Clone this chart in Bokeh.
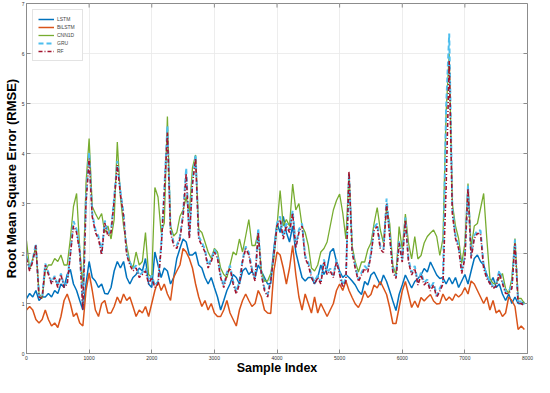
from bokeh.plotting import figure
from bokeh.models import FixedTicker, Range1d
from bokeh.embed import file_html
from bokeh.resources import INLINE

# sample positions (every 50 samples)
sample_index = list(range(0, 8000, 50))

lstm = [
    1.10, 1.20, 1.13, 1.26, 1.06, 1.13, 1.13, 1.20, 1.13, 1.26, 1.20, 1.39, 1.32, 1.58, 1.68, 1.39, 1.26, 1.06, 0.87, 1.39,
    1.84, 1.52, 1.45, 1.32, 1.39, 1.20, 1.19, 1.32, 1.65, 1.84, 1.71, 1.84, 1.52, 1.39, 1.52, 1.58, 1.71, 1.65, 1.90, 1.39,
    1.32, 2.03, 1.77, 1.52, 1.71, 1.65, 1.39, 1.52, 1.90, 2.10, 2.29, 2.23, 1.97, 1.97, 2.03, 1.77, 1.71, 1.52, 1.39, 1.52,
    1.32, 1.13, 0.87, 1.06, 1.26, 1.39, 1.58, 1.52, 1.39, 1.65, 1.71, 1.58, 1.65, 1.52, 1.77, 1.65, 1.52, 1.39, 1.40, 2.10,
    2.61, 2.42, 2.74, 2.42, 2.23, 2.55, 2.03, 1.77, 1.52, 1.45, 1.52, 1.52, 1.39, 1.52, 1.77, 1.58, 1.71, 2.03, 2.10, 1.84,
    1.65, 1.52, 1.58, 1.52, 1.45, 1.37, 1.25, 1.18, 1.44, 1.37, 1.57, 1.63, 1.50, 1.37, 1.57, 1.44, 1.25, 1.05, 0.86, 1.18,
    1.37, 1.57, 1.44, 1.31, 1.44, 1.50, 1.57, 1.70, 1.63, 1.83, 1.70, 1.57, 1.50, 1.52, 1.39, 1.52, 1.39, 1.52, 1.32, 1.45,
    1.58, 1.39, 1.65, 1.90, 1.97, 1.84, 1.77, 1.58, 1.39, 1.52, 1.32, 1.39, 1.19, 1.06, 1.19, 1.00, 1.13, 1.00, 1.00, 1.03,
]

bilstm = [
    0.87, 0.94, 0.87, 0.68, 0.61, 0.68, 0.87, 0.68, 0.55, 0.61, 0.52, 0.74, 1.06, 1.19, 1.00, 0.74, 0.81, 0.61, 0.55, 1.26,
    1.61, 1.26, 0.87, 0.74, 1.00, 1.06, 0.81, 0.81, 0.94, 1.13, 1.00, 1.19, 1.06, 1.13, 0.94, 0.74, 0.87, 0.81, 0.94, 0.74,
    1.00, 1.26, 1.45, 1.26, 1.39, 1.19, 1.06, 1.52, 1.65, 1.77, 2.10, 2.03, 1.90, 1.71, 1.39, 1.13, 0.94, 1.06, 0.87, 1.00,
    0.81, 0.74, 0.74, 0.87, 1.06, 0.81, 0.68, 0.55, 0.87, 1.06, 1.19, 1.06, 0.94, 1.00, 1.26, 1.13, 0.87, 0.81, 0.80, 1.65,
    2.03, 1.97, 1.71, 1.39, 1.71, 2.16, 1.58, 1.13, 0.87, 1.19, 1.00, 0.81, 1.13, 0.81, 1.00, 0.87, 0.74, 0.87, 1.00, 1.26,
    1.39, 1.26, 1.45, 1.26, 1.12, 0.99, 0.92, 1.05, 1.25, 1.12, 1.18, 1.37, 1.31, 1.44, 1.31, 1.18, 0.92, 0.60, 0.60, 0.92,
    1.25, 1.44, 1.18, 0.92, 1.05, 0.92, 1.12, 1.05, 1.12, 1.18, 1.05, 0.99, 1.00, 1.19, 1.06, 1.13, 1.06, 1.19, 1.13, 1.19,
    1.32, 1.19, 1.45, 1.39, 1.26, 1.13, 1.00, 1.13, 0.87, 1.06, 0.81, 0.87, 0.74, 0.81, 1.13, 1.06, 0.94, 0.48, 0.55, 0.48,
]

cnn1d = [
    2.26, 1.68, 1.90, 2.13, 1.20, 1.10, 1.65, 1.77, 1.77, 1.90, 1.84, 1.97, 1.77, 1.77, 2.29, 2.94, 3.20, 2.10, 1.32, 3.40,
    4.30, 2.94, 2.80, 2.68, 2.80, 2.42, 2.55, 2.29, 2.68, 4.23, 3.13, 2.55, 2.16, 1.84, 1.71, 2.03, 1.77, 1.84, 2.42, 1.58,
    1.52, 3.32, 3.13, 2.42, 2.61, 4.74, 2.55, 2.35, 2.42, 2.74, 2.87, 3.13, 2.81, 3.71, 3.97, 2.48, 2.42, 2.23, 2.03, 1.90,
    2.10, 2.03, 1.71, 1.58, 1.52, 1.77, 2.03, 1.97, 2.29, 2.03, 2.35, 2.68, 2.16, 2.16, 2.42, 1.65, 1.45, 1.45, 1.60, 1.90,
    2.55, 3.26, 2.55, 2.68, 2.55, 3.39, 2.87, 3.00, 2.55, 2.42, 2.16, 1.71, 1.65, 1.77, 2.03, 2.10, 2.23, 2.55, 2.87, 3.06,
    3.19, 2.81, 2.29, 3.60, 2.15, 1.83, 1.63, 1.83, 1.83, 2.08, 2.21, 2.60, 2.92, 2.47, 2.21, 2.92, 2.60, 1.76, 1.57, 2.54,
    2.08, 2.79, 2.21, 1.89, 2.34, 1.89, 1.96, 2.21, 2.34, 2.41, 2.47, 2.34, 1.96, 2.30, 4.80, 6.00, 3.00, 2.55, 2.30, 1.80,
    2.20, 3.40, 2.10, 2.55, 2.60, 2.90, 3.20, 2.30, 1.50, 1.40, 1.40, 1.50, 1.60, 1.30, 1.20, 1.50, 2.30, 1.10, 1.10, 1.00,
]

gru = [
    1.95, 1.70, 1.88, 2.20, 1.15, 1.12, 1.80, 1.62, 1.42, 1.55, 1.36, 1.60, 1.36, 1.42, 2.02, 2.65, 2.48, 2.08, 0.90, 3.10,
    4.02, 2.80, 2.48, 2.34, 2.02, 2.66, 2.40, 2.46, 3.12, 3.85, 3.24, 2.80, 2.02, 1.82, 1.70, 1.76, 1.56, 1.62, 1.70, 1.44,
    1.56, 1.36, 1.44, 2.16, 3.26, 4.55, 2.48, 2.22, 2.16, 2.34, 2.80, 3.71, 2.34, 3.44, 3.98, 2.34, 2.22, 2.08, 1.76, 1.88,
    2.08, 1.95, 1.56, 1.36, 1.62, 1.76, 1.44, 1.24, 1.44, 1.88, 2.14, 2.02, 1.70, 1.50, 2.50, 1.62, 1.30, 1.18, 1.50, 2.02,
    2.60, 2.74, 2.34, 2.60, 2.48, 2.86, 2.14, 2.48, 2.60, 1.95, 1.82, 1.56, 1.44, 1.56, 1.44, 1.88, 1.62, 1.70, 1.56, 1.88,
    1.62, 1.36, 1.50, 3.60, 2.08, 1.75, 1.48, 1.62, 1.75, 1.68, 2.00, 2.52, 2.60, 2.14, 2.08, 3.10, 2.40, 1.68, 1.55, 2.26,
    1.88, 2.72, 1.88, 1.62, 1.75, 1.42, 1.62, 1.42, 1.48, 1.30, 1.42, 1.16, 1.30, 1.44, 4.90, 6.40, 2.90, 2.36, 2.16, 1.65,
    1.95, 3.36, 1.95, 2.36, 2.46, 2.46, 1.76, 1.56, 1.44, 1.34, 1.40, 1.66, 1.44, 1.24, 1.24, 1.36, 2.28, 1.04, 1.04, 0.98,
]

rf = [
    1.90, 1.65, 1.84, 2.16, 1.13, 1.10, 1.77, 1.58, 1.39, 1.52, 1.32, 1.58, 1.32, 1.39, 1.97, 2.55, 2.42, 2.03, 0.87, 3.00,
    3.90, 2.74, 2.42, 2.29, 1.97, 2.61, 2.35, 2.42, 3.06, 3.77, 3.19, 2.74, 1.97, 1.77, 1.65, 1.71, 1.52, 1.58, 1.65, 1.39,
    1.52, 1.32, 1.39, 2.10, 3.19, 4.42, 2.42, 2.16, 2.10, 2.29, 2.74, 3.60, 2.29, 3.39, 3.90, 2.29, 2.16, 2.03, 1.71, 1.84,
    2.03, 1.90, 1.52, 1.32, 1.58, 1.71, 1.39, 1.19, 1.39, 1.84, 2.10, 1.97, 1.65, 1.45, 2.42, 1.58, 1.26, 1.13, 1.45, 1.97,
    2.55, 2.68, 2.29, 2.55, 2.42, 2.81, 2.10, 2.42, 2.55, 1.90, 1.77, 1.52, 1.39, 1.52, 1.39, 1.84, 1.58, 1.65, 1.52, 1.84,
    1.58, 1.32, 1.45, 3.65, 2.02, 1.70, 1.44, 1.57, 1.70, 1.63, 1.96, 2.47, 2.54, 2.08, 2.02, 2.99, 2.34, 1.63, 1.50, 2.21,
    1.83, 2.67, 1.83, 1.57, 1.70, 1.37, 1.57, 1.37, 1.44, 1.25, 1.37, 1.12, 1.25, 1.39, 3.30, 5.85, 2.80, 2.30, 2.10, 1.60,
    1.90, 3.30, 1.90, 2.30, 2.40, 2.40, 1.70, 1.50, 1.40, 1.30, 1.35, 1.60, 1.40, 1.20, 1.20, 1.30, 2.20, 1.00, 1.00, 0.95,
]

x_ticks = [0, 1000, 2000, 3000, 4000, 5000, 6000, 7000, 8000]
y_ticks = [0, 1, 2, 3, 4, 5, 6, 7]
X_MIN, X_MAX = 0, 8000
Y_MIN, Y_MAX = 0, 7

FONT = "Liberation Sans"
AX = "#8c8c8c"

W, H = 534, 377

p = figure(width=W, height=H, output_backend="svg", toolbar_location=None,
           x_range=Range1d(X_MIN, X_MAX), y_range=Range1d(Y_MIN, Y_MAX),
           min_border_left=0, min_border_right=7, min_border_top=3, min_border_bottom=0)
p.background_fill_color = "white"
p.border_fill_color = "white"
p.outline_line_color = AX
p.outline_line_width = 1

for ax in (p.xaxis[0], p.yaxis[0]):
    ax.major_tick_in = 4
    ax.major_tick_out = 0
    ax.minor_tick_line_color = None
    ax.axis_line_color = AX
    ax.major_tick_line_color = AX
    ax.major_label_text_font = FONT
    ax.major_label_text_font_size = "5px"
    ax.major_label_text_color = "#333333"
    ax.major_label_standoff = 2
    ax.axis_label_text_font = FONT
    ax.axis_label_text_font_style = "bold"
    ax.axis_label_text_color = "black"

p.xaxis.ticker = FixedTicker(ticks=x_ticks)
p.yaxis.ticker = FixedTicker(ticks=y_ticks)
p.xaxis.axis_label = "Sample Index"
p.yaxis.axis_label = "Root Mean Square Error (RMSE)"
p.xaxis.axis_label_text_font_size = "12.5px"
p.yaxis.axis_label_text_font_size = "13px"
p.xaxis.axis_label_standoff = -2
p.yaxis.axis_label_standoff = 0

# inward ticks on top and right edges of the box (tick length expressed in data units)
tick_len_x = (X_MAX - X_MIN) * 4 / 500
tick_len_y = (Y_MAX - Y_MIN) * 4 / 345
p.segment(x0=x_ticks, x1=x_ticks, y0=[Y_MAX] * len(x_ticks),
          y1=[Y_MAX - tick_len_y] * len(x_ticks), line_color=AX, line_width=1)
p.segment(x0=[X_MAX] * len(y_ticks), x1=[X_MAX - tick_len_x] * len(y_ticks),
          y0=y_ticks, y1=y_ticks, line_color=AX, line_width=1)

p.xgrid.ticker = FixedTicker(ticks=x_ticks)
p.ygrid.ticker = FixedTicker(ticks=y_ticks)
p.grid.grid_line_color = "#e8e8e8"
p.grid.grid_line_width = 0.8

p.line(sample_index, lstm, color="#0072BD", line_width=1.5, legend_label="LSTM")
p.line(sample_index, bilstm, color="#D95319", line_width=1.5, legend_label="BiLSTM")
p.line(sample_index, cnn1d, color="#77AC30", line_width=1.3, legend_label="CNN1D")
p.line(sample_index, gru, color="#4DBEEE", line_width=2, line_dash="5 3", legend_label="GRU")
p.line(sample_index, rf, color="#A2142F", line_width=1.6, line_dash="4 2 1 2", legend_label="RF")

lg = p.legend[0]
lg.location = "top_left"
lg.margin = 6
lg.padding = 5
lg.spacing = 0
lg.glyph_width = 16
lg.glyph_height = 8
lg.label_height = 8
lg.label_standoff = 3
lg.label_text_font = FONT
lg.label_text_font_size = "5px"
lg.border_line_color = "#c8c8c8"
lg.border_line_width = 1
lg.background_fill_color = "white"
lg.background_fill_alpha = 1

open("out.html", "w").write(file_html(p, INLINE))
